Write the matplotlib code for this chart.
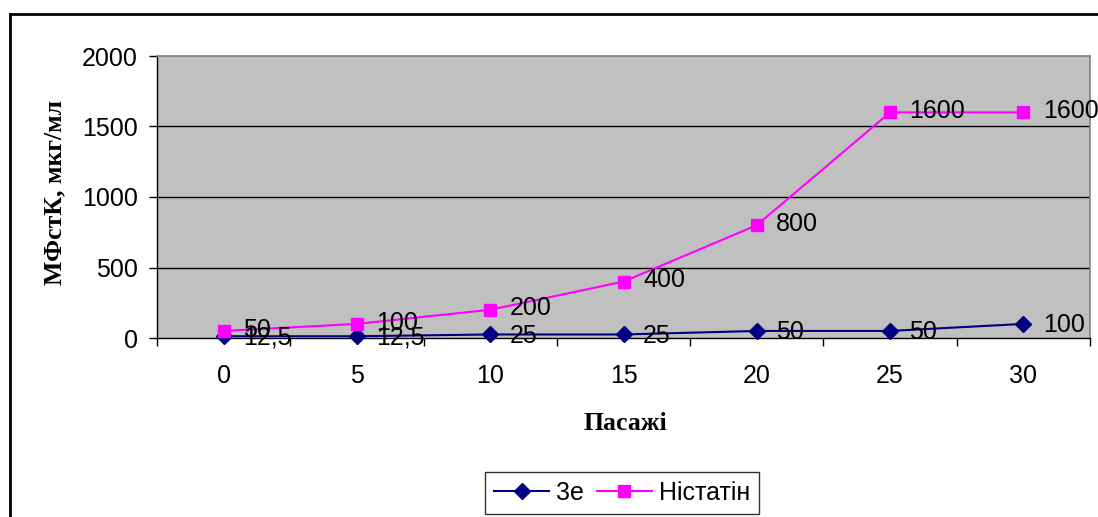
import matplotlib
matplotlib.use("Agg")
import matplotlib.pyplot as plt
from matplotlib.lines import Line2D
from matplotlib.ticker import FixedLocator, NullFormatter

passages = ["0", "5", "10", "15", "20", "25", "30"]
ze_values = [12.5, 12.5, 25, 25, 50, 50, 100]
nystatin_values = [50, 100, 200, 400, 800, 1600, 1600]
y_ticks = [0, 500, 1000, 1500, 2000]


def fmt(v):
    s = ("%g" % v)
    return s.replace(".", ",")


W, H = 1098, 517
fig = plt.figure(figsize=(W / 100, H / 100), dpi=100)
plt.rcParams["font.family"] = ["Liberation Sans", "DejaVu Sans"]

ax = fig.add_axes([157 / W, 1 - 338 / H, (1090 - 157) / W, (338 - 56) / H])
ax.set_facecolor("#C0C0C0")

x = list(range(len(passages)))
ax.set_xlim(-0.5, len(passages) - 0.5)
ax.set_ylim(0, 2000)

for v in y_ticks[1:-1]:
    ax.axhline(v, color="black", lw=1.0, zorder=1)

ax.plot(x, ze_values, color="#000080", marker="D", markersize=8.5, lw=1.5,
        label="3е", zorder=3, clip_on=False)
ax.plot(x, nystatin_values, color="#FF00FF", marker="s", markersize=8.5, lw=1.5,
        label="Ністатін", zorder=3, clip_on=False)

for xi, v in zip(x, ze_values):
    ax.annotate(fmt(v), (xi, v), xytext=(14, -1), textcoords="offset points",
                ha="left", va="center", fontsize=18, zorder=4, annotation_clip=False)
for xi, v in zip(x, nystatin_values):
    ax.annotate(fmt(v), (xi, v), xytext=(14, 1), textcoords="offset points",
                ha="left", va="center", fontsize=18, zorder=4, annotation_clip=False)

ax.set_xticks(x)
ax.set_xticklabels(passages, fontsize=18)
ax.xaxis.set_minor_locator(FixedLocator([i - 0.5 for i in range(len(passages) + 1)]))
ax.xaxis.set_minor_formatter(NullFormatter())
ax.tick_params(axis="x", which="major", length=0, pad=19)
ax.tick_params(axis="x", which="minor", length=6, width=1, direction="out", color="black")
ax.set_yticks(y_ticks)
ax.tick_params(axis="y", length=6, width=1, direction="out", labelsize=18, pad=8)

for side in ("top", "right"):
    ax.spines[side].set_color("#808080")
    ax.spines[side].set_linewidth(1.2)
for side in ("left", "bottom"):
    ax.spines[side].set_color("black")
    ax.spines[side].set_linewidth(1.0)

fig.text(55 / W, 1 - 192 / H, "МФстК, мкг/мл", rotation=90, ha="center", va="center",
         fontsize=18.5, fontweight="bold", family=["Liberation Serif", "DejaVu Serif"])
fig.text(625 / W, 1 - 424 / H, "Пасажі", ha="center", va="center",
         fontsize=18.5, fontweight="bold", family=["Liberation Serif", "DejaVu Serif"])

leg = fig.legend(loc="center", bbox_to_anchor=(622 / W, 1 - 493 / H), ncol=2,
                 fontsize=18, frameon=True, fancybox=False, edgecolor="black",
                 handlelength=2.2, columnspacing=0.5, handletextpad=0.28,
                 borderpad=0.35, borderaxespad=0)
leg.get_frame().set_linewidth(1.0)

fig.add_artist(Line2D([10 / W, 1.0], [1 - 14 / H, 1 - 14 / H], color="black", lw=2,
                      transform=fig.transFigure))
fig.add_artist(Line2D([10 / W, 10 / W], [1 - 14 / H, 0], color="black", lw=2,
                      transform=fig.transFigure))

fig.savefig("out.png", dpi=100)
